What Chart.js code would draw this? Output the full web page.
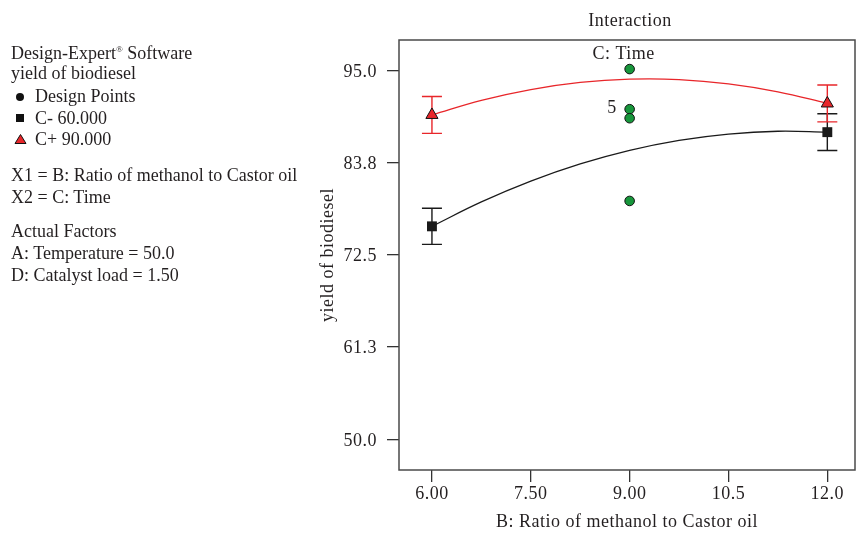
<!DOCTYPE html>
<html>
<head>
<meta charset="utf-8">
<script src="https://cdn.jsdelivr.net/npm/chart.js@4.4.1/dist/chart.umd.min.js"></script>
<style>
  html, body { margin: 0; padding: 0; background: #fff; overflow: hidden; }
  #wrap { position: relative; width: 856px; height: 540px; }
  #chart { position: absolute; left: 0; top: 0; }
  .lg { position: absolute; left: 11px; font-family: 'Liberation Serif', serif; font-size: 18px; color: #231f20; line-height: 20px; white-space: nowrap; }
  .lg sup { font-size: 9px; vertical-align: 7px; }
  .mk { position: absolute; left: 14px; }
</style>
</head>
<body>
<div id="wrap">
  <canvas id="chart" width="856" height="540"></canvas>
  <div class="lg" style="top:39px">Design-Expert<sup>®</sup> Software</div>
  <div class="lg" style="top:63px">yield of biodiesel</div>
  <svg class="mk" style="top:91px" width="12" height="12"><circle cx="6" cy="6" r="4" fill="#111"/></svg>
  <div class="lg" style="top:86px;left:35px">Design Points</div>
  <svg class="mk" style="top:112px" width="12" height="12"><rect x="2" y="2" width="8" height="8" fill="#111"/></svg>
  <div class="lg" style="top:108px;left:35px">C- 60.000</div>
  <svg class="mk" style="top:133px" width="14" height="12"><polygon points="6.5,1.5 12,10.5 1,10.5" fill="#e8262a" stroke="#111" stroke-width="1"/></svg>
  <div class="lg" style="top:129px;left:35px">C+ 90.000</div>
  <div class="lg" style="top:165px">X1 = B: Ratio of methanol to Castor oil</div>
  <div class="lg" style="top:187px">X2 = C: Time</div>
  <div class="lg" style="top:221px">Actual Factors</div>
  <div class="lg" style="top:243px">A: Temperature = 50.0</div>
  <div class="lg" style="top:265px">D: Catalyst load = 1.50</div>
</div>
<script>
// ---- data ----
const xTickValues = [6, 7.5, 9, 10.5, 12];
const xTickLabels = ['6.00', '7.50', '9.00', '10.5', '12.0'];
const yTickValues = [50, 61.25, 72.5, 83.75, 95];
const yTickLabels = ['50.0', '61.3', '72.5', '83.8', '95.0'];

const curveX    = [6, 6.75, 7.5, 8.25, 9, 9.75, 10.5, 11.25, 12];
const curveLow  = [76.0, 78.98, 81.52, 83.62, 85.28, 86.50, 87.27, 87.61, 87.5];   // C- 60.000
const curveHigh = [89.6, 91.38, 92.70, 93.57, 93.97, 93.92, 93.40, 92.43, 91.0];   // C+ 90.000

const factorX    = [6, 12];
const lowMean    = [76.0, 87.5];
const lowErrLo   = [73.8, 85.25];
const lowErrHi   = [78.2, 89.75];
const highMean   = [89.6, 91.0];
const highErrLo  = [87.35, 88.75];
const highErrHi  = [91.85, 93.25];

const designX = [9, 9, 9, 9];
const designY = [95.2, 90.3, 89.2, 79.1];
const replicateLabel = '5';

const titleText = 'Interaction';
const subTitleText = 'C: Time';
const xTitle = 'B: Ratio of methanol to Castor oil';
const yTitle = 'yield of biodiesel';

const FONT = "'Liberation Serif', serif";
const RED = '#e8262a';
const BLACK = '#1a1a1a';
const TXT = '#231f20';

const pts = (xs, ys) => xs.map((x, i) => ({ x: x, y: ys[i] }));

const spacing = {
  id: 'spacing',
  beforeInit(c) { c.ctx.letterSpacing = '0.5px'; },
  beforeUpdate(c) { c.ctx.letterSpacing = '0.5px'; },
  beforeLayout(c) { c.ctx.letterSpacing = '0.5px'; },
  beforeDraw(c) { c.ctx.letterSpacing = '0.5px'; }
};

const errorBars = {
  id: 'errorBars',
  beforeDatasetsDraw(chart) {
    const ctx = chart.ctx, xs = chart.scales.x, ys = chart.scales.y;
    const sets = [
      { lo: lowErrLo, hi: lowErrHi, color: BLACK },
      { lo: highErrLo, hi: highErrHi, color: RED }
    ];
    ctx.save();
    ctx.lineWidth = 1.4;
    sets.forEach(s => {
      ctx.strokeStyle = s.color;
      factorX.forEach((fx, i) => {
        const px = xs.getPixelForValue(fx);
        const y1 = ys.getPixelForValue(s.lo[i]);
        const y2 = ys.getPixelForValue(s.hi[i]);
        ctx.beginPath();
        ctx.moveTo(px, y1); ctx.lineTo(px, y2);
        ctx.moveTo(px - 10, y1); ctx.lineTo(px + 10, y1);
        ctx.moveTo(px - 10, y2); ctx.lineTo(px + 10, y2);
        ctx.stroke();
      });
    });
    ctx.restore();
  },
  afterDraw(chart) {
    const ctx = chart.ctx, a = chart.chartArea, xs = chart.scales.x, ys = chart.scales.y;
    ctx.save();
    ctx.strokeStyle = '#4a4a4a';
    ctx.lineWidth = 1.5;
    ctx.strokeRect(a.left, a.top, a.right - a.left, a.bottom - a.top);
    ctx.fillStyle = TXT;
    ctx.letterSpacing = '0.5px';
    ctx.font = "18px " + FONT;
    ctx.textAlign = 'center';
    ctx.textBaseline = 'middle';
    ctx.fillText(titleText, 630, 21);
    ctx.fillText(subTitleText, xs.getPixelForValue(9) - 6, a.top + 14);
    ctx.textAlign = 'right';
    ctx.fillText(replicateLabel, xs.getPixelForValue(9) - 13, ys.getPixelForValue(designY[1]) - 1);
    ctx.restore();
  }
};

new Chart(document.getElementById('chart'), {
  type: 'scatter',
  data: {
    datasets: [
      { label: 'Design Points', data: pts(designX, designY), pointStyle: 'circle', pointRadius: 4.8,
        backgroundColor: '#17963b', borderColor: '#111', borderWidth: 1, order: 0 },
      { label: 'C+ 90.000', data: pts(factorX, highMean), pointStyle: 'triangle', pointRadius: 7,
        backgroundColor: RED, borderColor: '#111', borderWidth: 1, order: 1 },
      { label: 'C- 60.000', data: pts(factorX, lowMean), pointStyle: 'rect', pointRadius: 7,
        backgroundColor: BLACK, borderColor: BLACK, borderWidth: 0, order: 2 },
      { label: 'high curve', data: pts(curveX, curveHigh), showLine: true, pointRadius: 0,
        borderColor: RED, borderWidth: 1.3, tension: 0.4, fill: false, order: 3 },
      { label: 'low curve', data: pts(curveX, curveLow), showLine: true, pointRadius: 0,
        borderColor: BLACK, borderWidth: 1.3, tension: 0.4, fill: false, order: 4 }
    ]
  },
  options: {
    responsive: false,
    maintainAspectRatio: false,
    animation: false,
    devicePixelRatio: 1,
    layout: { autoPadding: false, padding: { left: 300, right: 1, top: 40, bottom: 0 } },
    plugins: { legend: { display: false }, tooltip: { enabled: false }, title: { display: false } },
    scales: {
      x: {
        type: 'linear', min: 5.5, max: 12.42,
        afterFit: s => { s.height = 70; s.paddingLeft = 0; s.paddingRight = 0; },
        afterBuildTicks: s => { s.ticks = xTickValues.map(v => ({ value: v })); },
        ticks: { callback: (v, i) => xTickLabels[i], font: { family: FONT, size: 18 }, color: TXT, padding: 1.5, maxRotation: 0, autoSkip: false },
        grid: { drawOnChartArea: false, drawTicks: true, tickLength: 12, color: '#333', lineWidth: 1.3 },
        border: { display: false },
        title: { display: true, text: xTitle, font: { family: FONT, size: 18 }, color: TXT, padding: { top: 0, bottom: 7 } }
      },
      y: {
        type: 'linear', min: 46.25, max: 98.75,
        afterFit: s => { s.width = 99; s.paddingTop = 0; s.paddingBottom = 0; },
        afterBuildTicks: s => { s.ticks = yTickValues.map(v => ({ value: v })); },
        ticks: { callback: (v, i) => yTickLabels[i], font: { family: FONT, size: 18 }, color: TXT, padding: 10, labelOffset: 1.5, autoSkip: false },
        grid: { drawOnChartArea: false, drawTicks: true, tickLength: 12, color: '#333', lineWidth: 1.3 },
        border: { display: false },
        title: { display: true, text: yTitle, font: { family: FONT, size: 18 }, color: TXT, padding: { top: 17, bottom: 0 } }
      }
    }
  },
  plugins: [spacing, errorBars]
});
</script>
</body>
</html>
